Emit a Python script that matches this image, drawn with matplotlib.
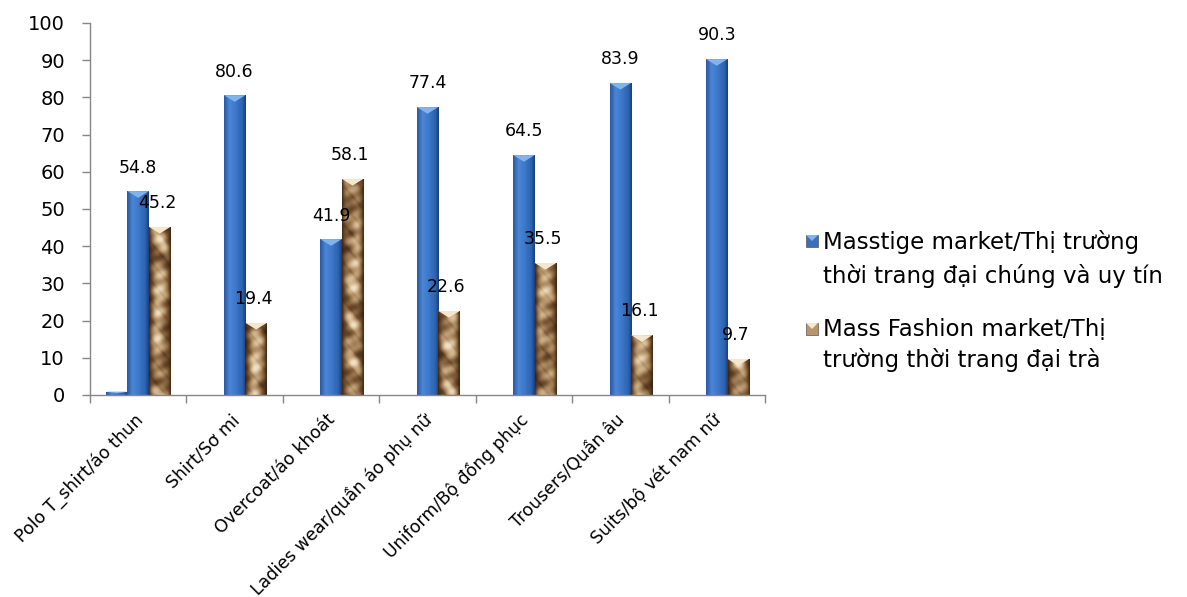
import numpy as np
import matplotlib.pyplot as plt
from matplotlib.colors import LinearSegmentedColormap
from matplotlib.patches import Polygon, Rectangle
from matplotlib.transforms import ScaledTranslation

categories = ['Polo T_shirt/áo thun', 'Shirt/Sơ mi', 'Overcoat/áo khoát',
              'Ladies wear/quần áo phụ nữ', 'Uniform/Bộ đồng phục',
              'Trousers/Quần âu', 'Suits/bộ vét nam nữ']
masstige = [54.8, 80.6, 41.9, 77.4, 64.5, 83.9, 90.3]
mass_fashion = [45.2, 19.4, 58.1, 22.6, 35.5, 16.1, 9.7]
extra = [0.9, 0, 0, 0, 0, 0, 0]
legend_labels = ['Masstige market/Thị trường\nthời trang đại chúng và uy tín',
                 'Mass Fashion market/Thị\ntrường thời trang đại trà']

plt.rcParams['font.family'] = ['DejaVu Sans']
gray = '#868686'

blue_cmap = LinearSegmentedColormap.from_list(
    'blue_bar', [(0, '#2a5aa3'), (0.25, '#4b87d6'), (0.55, '#3c77c8'),
                 (0.85, '#2d62b0'), (1, '#1a3f7e')])
tan_cmap = LinearSegmentedColormap.from_list(
    'tan_bar', [(0, '#2e1a0b'), (0.3, '#6e4c2c'), (0.55, '#a4825a'),
                (0.8, '#d2b78f'), (1, '#efe0c4')])

fig = plt.figure(figsize=(11.87, 5.97), dpi=100)
ax = fig.add_axes([90 / 1187, 1 - 395 / 597, 675 / 1187, 372 / 597])

x = np.arange(len(categories))
w = 0.223

# horizontal shading for the blue bars
blue_grad = np.linspace(0, 1, 32)[None, :]

# mottled paper texture for the tan bars, laid out over the full 0-100 range
yy, xx = np.mgrid[0:100:500j, 0:1:30j]


def tan_texture(seed):
    t = (0.66
         + 0.18 * np.sin(0.37 * yy + 3 * np.sin(2.3 * xx + 0.11 * yy + seed))
         + 0.14 * np.sin(0.93 * yy + 2.1 * xx + 1.3 * np.sin(0.23 * yy + seed))
         + 0.09 * np.sin(1.9 * yy - 5 * xx + 2 * seed)
         - 0.12 * np.exp(-8 * np.sin(0.61 * yy + 4 * xx + seed) ** 2))
    edge = 1 - 0.85 * np.abs(2 * xx - 1) ** 2.2
    return np.clip(t * edge, 0, 1)


def shade_bars(bars, kind):
    for i, rect in enumerate(bars):
        x0, h, bw = rect.get_x(), rect.get_height(), rect.get_width()
        if h <= 0:
            continue
        if kind == 'blue':
            im = ax.imshow(blue_grad, extent=[x0, x0 + bw, 0, h], aspect='auto',
                           cmap=blue_cmap, vmin=0, vmax=1, zorder=2,
                           interpolation='bilinear')
            cap = '#80b4ee'
        else:
            rows = max(int(round(h * 5)), 2)
            im = ax.imshow(tan_texture(i * 1.7)[:rows][::-1], extent=[x0, x0 + bw, 0, h],
                           aspect='auto', cmap=tan_cmap, vmin=0, vmax=1, zorder=2,
                           interpolation='bilinear')
            cap = '#f4e6cf'
        im.set_clip_path(rect)
        th = min(1.8, h * 0.5)
        ax.add_patch(Polygon([(x0, h), (x0 + bw, h), (x0 + bw / 2, h - th)],
                             closed=True, facecolor=cap, edgecolor='none', zorder=3))


b0 = ax.bar(x - w, extra, w, color='#3a6fbf', zorder=1)
b1 = ax.bar(x, masstige, w, color='#3a6fbf', zorder=1)
b2 = ax.bar(x + w, mass_fashion, w, color='#a88358', zorder=1)
shade_bars(b0, 'blue')
shade_bars(b1, 'blue')
shade_bars(b2, 'tan')

for xi, v in zip(x, masstige):
    ax.annotate(f'{v}', (xi, v), xytext=(0, 17), textcoords='offset points',
                ha='center', va='center', fontsize=12.5, zorder=5)
for xi, v in zip(x + w, mass_fashion):
    ax.annotate(f'{v}', (xi, v), xytext=(-2, 17), textcoords='offset points',
                ha='center', va='center', fontsize=12.5, zorder=5)

ax.set_xlim(-0.5, len(categories) - 0.5)
ax.set_ylim(0, 100)
ax.set_yticks(range(0, 101, 10))
ax.tick_params(axis='y', labelsize=14, length=6, color=gray, width=1, pad=12)

ax.set_xticks(x)
ax.set_xticklabels(categories, rotation=45, ha='right', va='center',
                   rotation_mode='anchor', fontsize=12.5)
ax.tick_params(axis='x', length=0, pad=16)
ax.set_xticks(np.arange(-0.5, len(categories), 1), minor=True)
ax.tick_params(axis='x', which='minor', length=6, color=gray, width=1)
shift = ScaledTranslation(2 / 100, 0, fig.dpi_scale_trans)
for lab in ax.get_xticklabels():
    lab.set_transform(lab.get_transform() + shift)

for side in ['top', 'right']:
    ax.spines[side].set_visible(False)
for side in ['left', 'bottom']:
    ax.spines[side].set_color(gray)
    ax.spines[side].set_linewidth(1)

# legend drawn by hand so each swatch sits on the first line of its label
swatches = [('#3a6fbf', '#80b4ee', 235, 1.55), ('#b8966a', '#f3e7d0', 323, 1.35)]
for (face, cap, ytop, spacing), label in zip(swatches, legend_labels):
    fig.add_artist(Rectangle((806 / 1187, 1 - (ytop + 12) / 597), 12 / 1187, 12 / 597,
                             transform=fig.transFigure, facecolor=face,
                             edgecolor='#555555', linewidth=0.5))
    fig.add_artist(Polygon([(806 / 1187, 1 - ytop / 597), (818 / 1187, 1 - ytop / 597),
                            (812 / 1187, 1 - (ytop + 6) / 597)],
                           transform=fig.transFigure, facecolor=cap, edgecolor='none'))
    fig.text(823 / 1187, 1 - (ytop - 5) / 597, label, fontsize=16.5, va='top',
             ha='left', linespacing=spacing)

fig.savefig('out.png', dpi=100)
